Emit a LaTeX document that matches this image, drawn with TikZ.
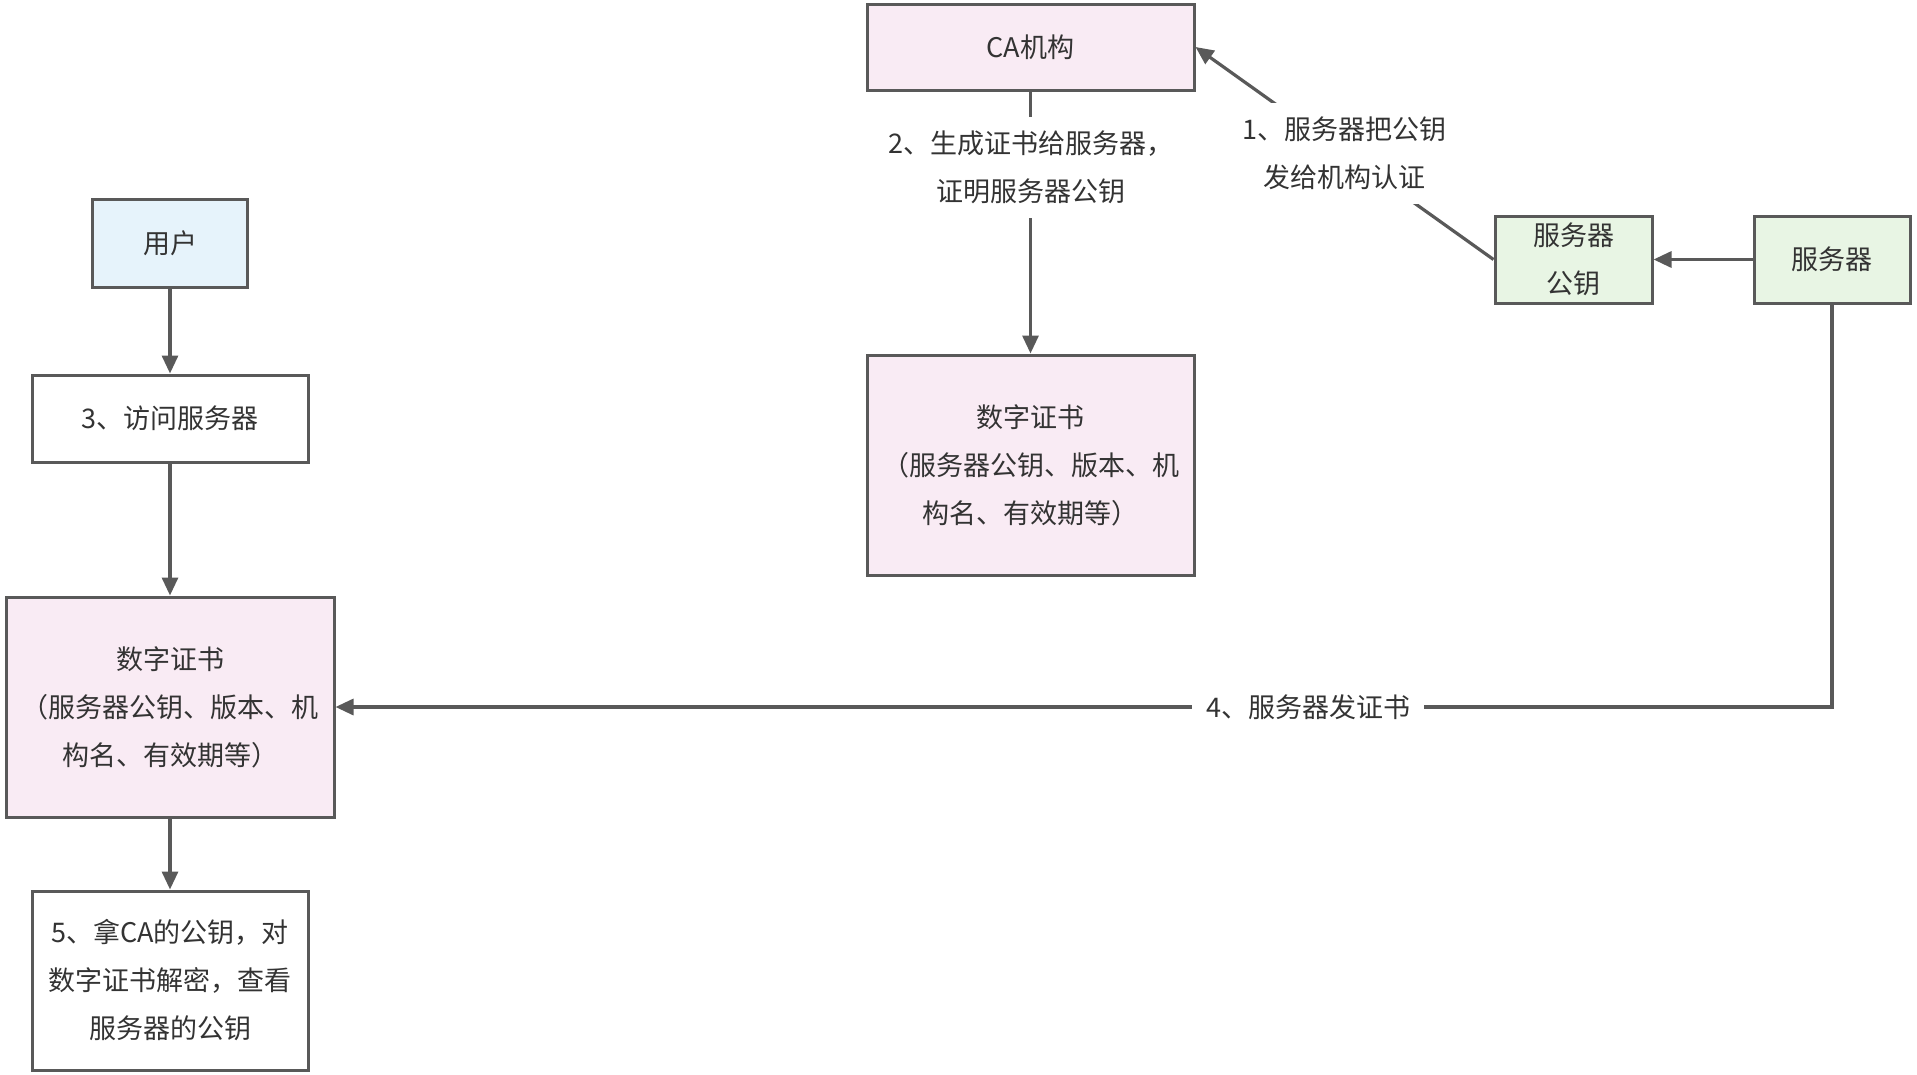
\documentclass[tikz,border=0pt]{standalone}
\usepackage{fontspec}
\setmainfont{Noto Sans CJK SC}
\usetikzlibrary{arrows.meta}
\definecolor{edgec}{HTML}{595959}
\definecolor{txtc}{HTML}{333333}
\definecolor{pinkc}{HTML}{F9EBF4}
\definecolor{bluec}{HTML}{E6F3FB}
\definecolor{greenc}{HTML}{E8F5E4}
\tikzset{
  box/.style={draw=edgec, line width=3pt, text=txtc, align=center, inner sep=2pt,
    font=\fontsize{27}{48}\selectfont},
  lbl/.style={fill=white, text=txtc, align=center, inner sep=10pt,
    font=\fontsize{27}{48}\selectfont},
  arr/.style={draw=edgec, line width=3.2pt, -{Triangle[length=18pt,width=16pt]}},
  ln/.style={draw=edgec, line width=3pt}
}
\begin{document}
\begin{tikzpicture}[x=1pt,y=-1pt]
\useasboundingbox (0,0) rectangle (1917,1074);
\node[box, fill=pinkc, minimum width=327pt, minimum height=86pt] (ca) at (1030.5,47) {CA机构};
\node[box, fill=pinkc, minimum width=327pt, minimum height=220pt] (cert1) at (1030.5,465) {数字证书\\（服务器公钥、版本、机\\构名、有效期等）};
\node[box, fill=greenc, minimum width=157pt, minimum height=87pt] (pub) at (1573.5,259.5) {服务器\\公钥};
\node[box, fill=greenc, minimum width=156pt, minimum height=87pt] (srv) at (1832,259.5) {服务器};
\node[box, fill=bluec, minimum width=155pt, minimum height=88pt] (user) at (170,243) {用户};
\node[box, fill=white, minimum width=276pt, minimum height=87pt] (visit) at (170,418.5) {3、访问服务器};
\node[box, fill=pinkc, minimum width=328pt, minimum height=220pt] (cert2) at (170,707) {数字证书\\（服务器公钥、版本、机\\构名、有效期等）};
\node[box, fill=white, minimum width=276pt, minimum height=179pt] (step5) at (170,980.5) {5、拿CA的公钥，对\\数字证书解密，查看\\服务器的公钥};

\draw[arr] (pub.west) -- (ca.east) node[lbl, midway, inner sep=14pt] (l1) {1、服务器把公钥\\发给机构认证};
\draw[arr] (ca.south) -- (cert1.north) node[lbl, pos=0.29, inner ysep=14pt] (l2) {2、生成证书给服务器，\\证明服务器公钥};
\draw[arr] (srv.west) -- (pub.east);
\draw[arr] (user.south) -- (visit.north);
\draw[arr] (visit.south) -- (cert2.north);
\draw[arr] (cert2.south) -- (step5.north);
\draw[arr] (srv.south) |- (cert2.east) node[lbl, pos=0.675, inner xsep=14pt] (l4) {4、服务器发证书};
\end{tikzpicture}
\end{document}
